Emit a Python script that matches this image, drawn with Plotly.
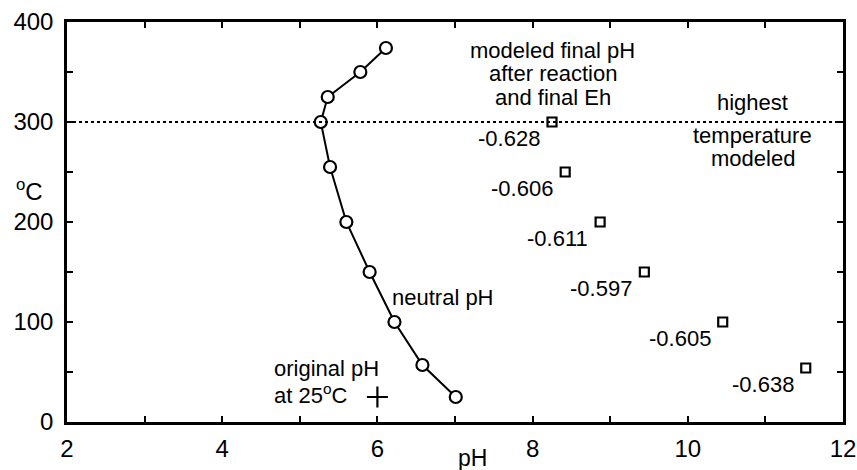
import plotly.graph_objects as go

# neutral pH of water vs temperature
neutral_T = [25, 57, 100, 150, 200, 255, 300, 325, 350, 374]
neutral_pH = [7.01, 6.58, 6.22, 5.90, 5.60, 5.39, 5.27, 5.36, 5.78, 6.11]

# modeled final pH after reaction, with final Eh
final_T = [300, 250, 200, 150, 100, 54]
final_pH = [8.25, 8.42, 8.87, 9.44, 10.45, 11.52]
final_Eh = ["-0.628", "-0.606", "-0.611", "-0.597", "-0.605", "-0.638"]

# original pH at 25 C
orig_pH = [6.0]
orig_T = [25]

highest_T = 300

FONT = "Liberation Sans, Arial, Helvetica, sans-serif"
AF = 22

fig = go.Figure()

fig.add_trace(go.Scatter(
    x=neutral_pH, y=neutral_T, mode="lines+markers",
    line=dict(color="black", width=2),
    marker=dict(symbol="circle", size=12, color="white",
                line=dict(color="black", width=2.2)),
    showlegend=False))

fig.add_trace(go.Scatter(
    x=final_pH, y=final_T, mode="markers",
    marker=dict(symbol="square", size=9, color="white",
                line=dict(color="black", width=2.2)),
    showlegend=False))

fig.add_trace(go.Scatter(
    x=orig_pH, y=orig_T, mode="markers",
    marker=dict(symbol="cross-thin", size=15,
                line=dict(color="black", width=2.2)),
    showlegend=False))

fig.add_shape(type="line", xref="paper", x0=0, x1=1, yref="y",
              y0=highest_T, y1=highest_T,
              line=dict(color="black", width=2.2, dash="dot"))

ann = []
for px, ty, lab in zip(final_pH, final_T, final_Eh):
    ann.append(dict(x=px, y=ty, text=lab, showarrow=False,
                    xanchor="right", yanchor="middle",
                    xshift=-10, yshift=-16, font=dict(size=AF)))

def txt(x, y, t, xa="center"):
    ann.append(dict(x=x, y=y, text=t, showarrow=False, xanchor=xa,
                    yanchor="middle", font=dict(size=AF)))

txt(8.26, 372, "modeled final pH")
txt(8.26, 349, "after reaction")
txt(8.26, 325, "and final Eh")
txt(10.84, 320, "highest")
txt(10.84, 287, "temperature")
txt(10.84, 264, "modeled")
txt(6.16, 125, "neutral pH", "left")
txt(4.64, 54, "original pH", "left")
txt(4.64, 28, "at 25<sup>o</sup>C", "left")

ann.append(dict(xref="paper", yref="y", x=-0.048, y=232,
                text="<sup>o</sup>C", showarrow=False, xanchor="center",
                yanchor="middle", font=dict(size=24)))
ann.append(dict(xref="x", yref="paper", x=7.23, y=-0.09,
                text="pH", showarrow=False, xanchor="center",
                yanchor="middle", font=dict(size=23)))

axis_common = dict(showline=True, linecolor="black", linewidth=2.5,
                   mirror="allticks", ticks="inside", ticklen=6,
                   tickwidth=2, tickcolor="black", showgrid=False,
                   zeroline=False, automargin=False,
                   tickfont=dict(size=24, color="black"))

fig.update_layout(
    width=857, height=470,
    margin=dict(l=67, r=14, t=22, b=48),
    paper_bgcolor="white", plot_bgcolor="white",
    font=dict(family=FONT, color="black"),
    annotations=ann,
    xaxis=dict(range=[2, 12], tick0=2, dtick=2,
               minor=dict(dtick=1, ticks="inside", ticklen=6, tickwidth=2,
                          tickcolor="black", showgrid=False),
               ticklabelstandoff=3, **axis_common),
    yaxis=dict(range=[0, 400], tick0=0, dtick=100,
               minor=dict(dtick=50, ticks="inside", ticklen=6, tickwidth=2,
                          tickcolor="black", showgrid=False),
               ticklabelstandoff=6, **axis_common),
)

fig.write_html("out.html")
